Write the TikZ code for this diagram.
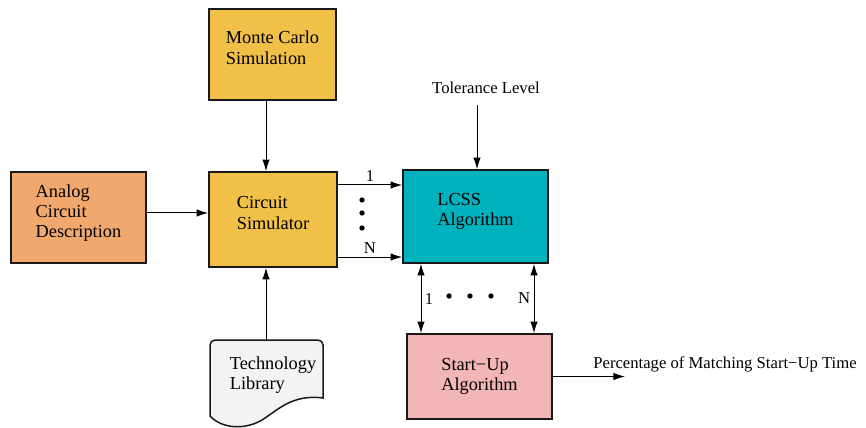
\documentclass[tikz,border=0pt]{standalone}
\usepackage{fontspec}
\setmainfont{Liberation Serif}
\usetikzlibrary{arrows.meta}
\definecolor{mcyellow}{RGB}{240,192,72}
\definecolor{acorange}{RGB}{240,168,110}
\definecolor{lcteal}{RGB}{0,178,190}
\definecolor{supink}{RGB}{242,182,182}
\definecolor{tlgray}{RGB}{243,243,243}
\tikzset{
  block/.style={draw=black!90, line width=0.9pt, align=left, inner sep=0pt,
    font=\fontsize{11}{12.2}\selectfont},
  arr/.style={-{Latex[length=7pt,width=4.5pt]}, line width=0.6pt},
  darr/.style={{Latex[length=7pt,width=4.5pt]}-{Latex[length=7pt,width=4.5pt]}, line width=0.6pt},
}
\begin{document}
\begin{tikzpicture}[x=0.6pt,y=-0.6pt]
        \useasboundingbox (0,0) rectangle (866,428);
        % Blocks
        \node[block, fill=mcyellow, minimum width=76.2pt, minimum height=54.6pt, text depth=8.4pt]
            (monte) at (272.5,54.5) {Monte Carlo\\Simulation};
        \node[block, fill=mcyellow, minimum width=76.8pt, minimum height=57pt, text depth=7.8pt]
            (circuit) at (273,219.5) {Circuit\\Simulator};
        \node[block, fill=acorange, minimum width=81pt, minimum height=54.6pt, text depth=7.6pt]
            (analog) at (78.5,217.5) {Analog\\Circuit\\Description};
        \node[block, fill=lcteal, minimum width=87pt, minimum height=55.8pt, text depth=8.6pt]
            (lcss) at (475.5,216.5) {LCSS\\Algorithm};
        \node[block, fill=supink, minimum width=87pt, minimum height=51pt]
            (startup) at (479.5,376.5) {Start−Up\\Algorithm};
        % Technology library (document shape)
        \draw[block, fill=tlgray] (210,416) [rounded corners=3pt] -- (210,340) -- (323,340)
            [sharp corners] -- (323,398) .. controls (292,394) and (278,410) .. (262,420)
            .. controls (245,430) and (222,429) .. (210,416) -- cycle;
        \node[align=left, font=\fontsize{11}{12.2}\selectfont] (tech) at (273,375) {Technology\\Library};
        \node (tol) at (486,88) {Tolerance Level};
        \node[anchor=base west, inner sep=0pt] (pct) at (593,368) {Percentage of Matching Start−Up Time};
        % Helper coordinates
        \coordinate (mcx) at (266,0);
        \coordinate (acy) at (0,213);
        \coordinate (one) at (0,185);
        \coordinate (enn) at (0,257);
        \coordinate (techtop) at (266,340);
        \coordinate (tolin) at (477,105);
        \coordinate (lx) at (421,0);
        \coordinate (rx) at (534,0);
        \coordinate (outend) at (625,376.5);
        % Connectors
        \draw[arr] (monte.south -| mcx) -- (circuit.north -| mcx);
        \draw[arr] (analog.east |- acy) -- (circuit.west |- acy);
        \draw[arr] (techtop) -- (circuit.south -| techtop);
        \draw[arr] (circuit.east |- one) -- node[above, inner sep=2pt] {1} (lcss.west |- one);
        \draw[arr] (circuit.east |- enn) -- node[above, inner sep=2pt] {N} (lcss.west |- enn);
        \draw[arr] (tolin) -- (lcss.north -| tolin);
        \draw[darr] (lcss.south -| lx) -- node[right, inner sep=2pt] {1} (startup.north -| lx);
        \draw[darr] (lcss.south -| rx) -- node[left, inner sep=2pt] {N} (startup.north -| rx);
        \draw[arr] (startup.east) -- (outend);
        % Dots
        \foreach \y in {200,213,228}
            \fill (362,\y) circle (1.6pt);
        \foreach \x in {449,470,491}
            \fill (\x,296) circle (1.6pt);
\end{tikzpicture}
\end{document}
